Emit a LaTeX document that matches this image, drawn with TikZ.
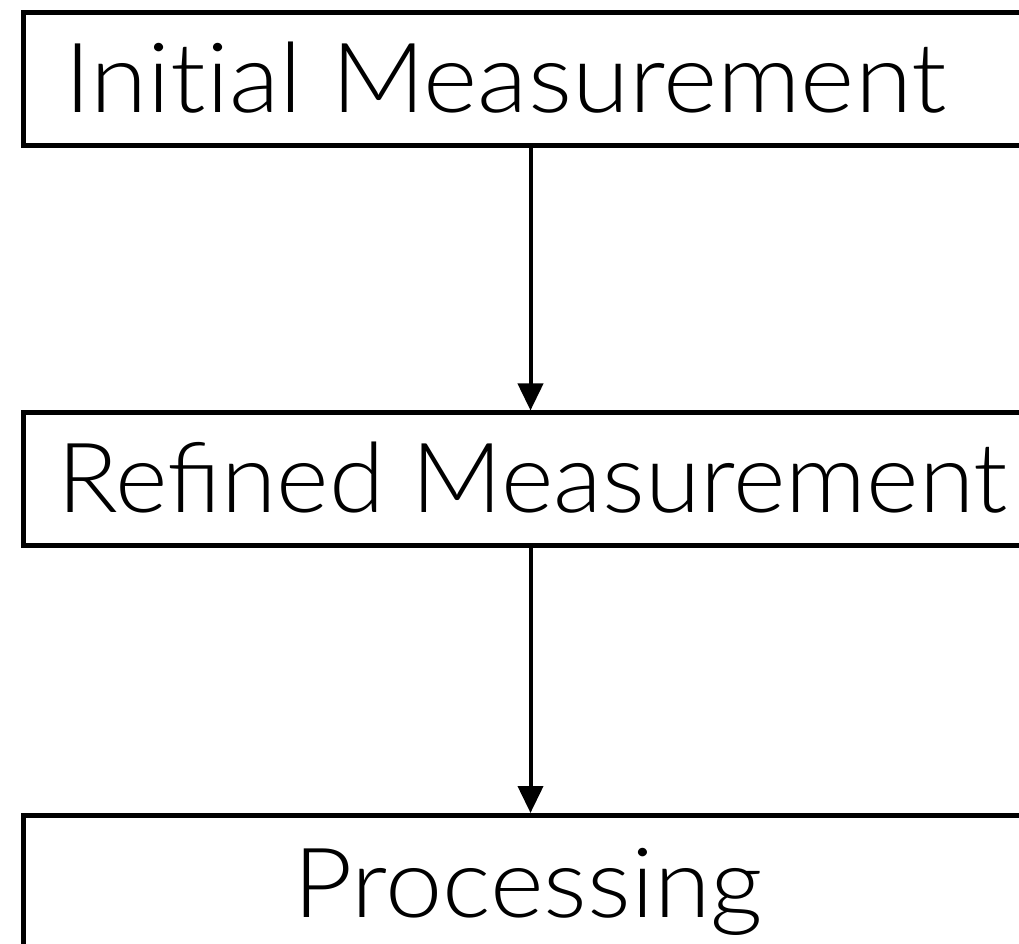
\documentclass[tikz,border=0pt]{standalone}
\usepackage{fontspec}
\setmainfont{Lato Light}
\usetikzlibrary{arrows.meta}
\begin{document}
\begin{tikzpicture}[x=1pt,y=1pt,
  stagebox/.style={draw=black, line width=5pt, inner sep=0pt, anchor=north west,
    minimum width=1014pt, minimum height=#1},
  label/.style={anchor=base, inner sep=0pt, font=\fontsize{97}{100}\selectfont},
  flow/.style={line width=4pt, -{Triangle[length=27pt,width=25pt]}}]
\useasboundingbox (0,0) rectangle (1019,943);
\clip (0,0) rectangle (1019,943);
\node[stagebox=133pt] (b1) at (21,932.5) {};
\node[stagebox=132.5pt] (b2) at (21,532.5) {};
\node[stagebox=170pt] (b3) at (21,130) {};
\node[label] (t1) at (505.5,830) {\addfontfeature{Ligatures=NoCommon}\scalebox{1.07}[1]{Initial Measurement}};
\node[label] (t2) at (532.5,430) {\scalebox{1.036}[1]{Refined Measurement}};
\node[label] (t3) at (528,26) {\scalebox{1.06}[1]{Processing}};
\draw[flow] (b1.south) -- (b2.north);
\draw[flow] (b2.south) -- (b3.north);
\end{tikzpicture}
\end{document}
